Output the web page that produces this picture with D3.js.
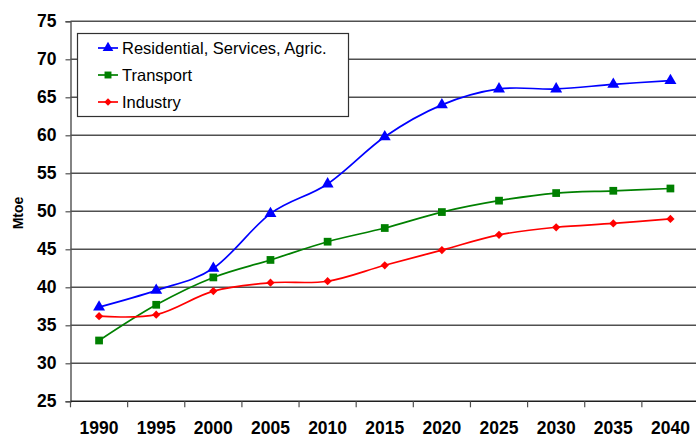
<!DOCTYPE html>
<html>
<head>
<meta charset="utf-8">
<script src="https://cdn.jsdelivr.net/npm/d3@7"></script>
<style>
  html, body { margin: 0; padding: 0; background: #fff; }
  svg { display: block; font-family: Arial, "Liberation Sans", sans-serif; }
</style>
</head>
<body>
<svg id="chart" width="696" height="437"></svg>
<script>
// Final energy demand by sector (Mtoe)
const years = ["1990", "1995", "2000", "2005", "2010", "2015", "2020", "2025", "2030", "2035", "2040"];
const residential = [37.4, 39.6, 42.5, 49.7, 53.6, 59.8, 64.0, 66.1, 66.1, 66.7, 67.2];
const transport   = [33.0, 37.7, 41.3, 43.6, 46.0, 47.8, 49.9, 51.4, 52.4, 52.7, 53.0];
const industry    = [36.2, 36.4, 39.5, 40.6, 40.8, 42.9, 44.9, 46.9, 47.9, 48.4, 49.0];
const yTicks = [25, 30, 35, 40, 45, 50, 55, 60, 65, 70, 75];
const seriesNames = ["Residential, Services, Agric.", "Transport", "Industry"];

const series = [
  { name: seriesNames[0], values: residential, color: "#0000ff", marker: d3.symbolTriangle, size: 62, rot: 0 },
  { name: seriesNames[1], values: transport,   color: "#008000", marker: d3.symbolSquare,   size: 60, rot: 0 },
  { name: seriesNames[2], values: industry,    color: "#ff0000", marker: d3.symbolSquare,   size: 34, rot: 45 }
];

const svg = d3.select("#chart");
const plotLeft = 70.5, plotRight = 699, plotTop = 21.3, plotBottom = 401.3;

const x = d3.scaleBand().domain(years).range([plotLeft, plotRight]).padding(0);
const y = d3.scaleLinear().domain([25, 75]).range([plotBottom, plotTop]);
const cx = d => x(d) + x.bandwidth() / 2;

// horizontal gridlines
svg.append("g").selectAll("line")
  .data(yTicks.filter(t => t > 25))
  .join("line")
  .attr("x1", plotLeft).attr("x2", 696)
  .attr("y1", d => y(d)).attr("y2", d => y(d))
  .attr("stroke", "#505050").attr("stroke-width", 1.4);

// y axis
const yAxis = d3.axisLeft(y).tickValues(yTicks).tickSize(5).tickPadding(9).tickFormat(d3.format("d"));
const gy = svg.append("g").attr("transform", `translate(${plotLeft},0)`).call(yAxis);
gy.select(".domain").attr("stroke", "#505050").attr("stroke-width", 1.4);
gy.selectAll(".tick line").attr("stroke", "#505050").attr("stroke-width", 1.2);
gy.selectAll("text").attr("font-size", 17.5).attr("font-weight", "bold").attr("fill", "#000")
  .attr("font-family", "Arial, 'Liberation Sans', sans-serif");

// x axis: ticks on category boundaries, labels centred in each category
const gx = svg.append("g").attr("transform", `translate(0,${plotBottom})`);
gx.append("line").attr("x1", plotLeft).attr("x2", 696).attr("y1", 0).attr("y2", 0)
  .attr("stroke", "#202020").attr("stroke-width", 1.4);
gx.selectAll("line.tk").data(years).join("line").attr("class", "tk")
  .attr("x1", d => x(d)).attr("x2", d => x(d)).attr("y1", 0).attr("y2", 6)
  .attr("stroke", "#505050").attr("stroke-width", 1.2);
gx.selectAll("text").data(years).join("text")
  .attr("x", d => cx(d)).attr("y", 33)
  .attr("text-anchor", "middle")
  .attr("font-size", 17.5).attr("font-weight", "bold").attr("fill", "#000")
  .text(d => d);

// y axis title
svg.append("text")
  .attr("transform", "translate(23,213) rotate(-90)")
  .attr("text-anchor", "middle")
  .attr("font-size", 14).attr("font-weight", "bold")
  .text("Mtoe");

// series lines and markers
const line = d3.line()
  .x((d, i) => cx(years[i]))
  .y(d => y(d))
  .curve(d3.curveCatmullRom.alpha(0));

series.forEach(s => {
  svg.append("path")
    .attr("d", line(s.values))
    .attr("fill", "none")
    .attr("stroke", s.color)
    .attr("stroke-width", 1.7);
  svg.append("g").selectAll("path")
    .data(s.values)
    .join("path")
    .attr("transform", (d, i) => `translate(${cx(years[i])},${y(d)}) rotate(${s.rot})`)
    .attr("d", d3.symbol().type(s.marker).size(s.size))
    .attr("fill", s.color);
});

// legend
const lg = svg.append("g");
lg.append("rect").attr("x", 77.5).attr("y", 33.5).attr("width", 271).attr("height", 83)
  .attr("fill", "#fff").attr("stroke", "#303030").attr("stroke-width", 1.2);
series.forEach((s, i) => {
  const ry = 48 + i * 27;
  lg.append("line").attr("x1", 98).attr("x2", 118).attr("y1", ry).attr("y2", ry)
    .attr("stroke", s.color).attr("stroke-width", 1.7);
  lg.append("path").attr("transform", `translate(108,${ry}) rotate(${s.rot})`)
    .attr("d", d3.symbol().type(s.marker).size(s.size * 0.8)).attr("fill", s.color);
  lg.append("text").attr("x", 122).attr("y", ry + 6)
    .attr("font-size", 16.5).attr("fill", "#000").text(s.name);
});
</script>
</body>
</html>
